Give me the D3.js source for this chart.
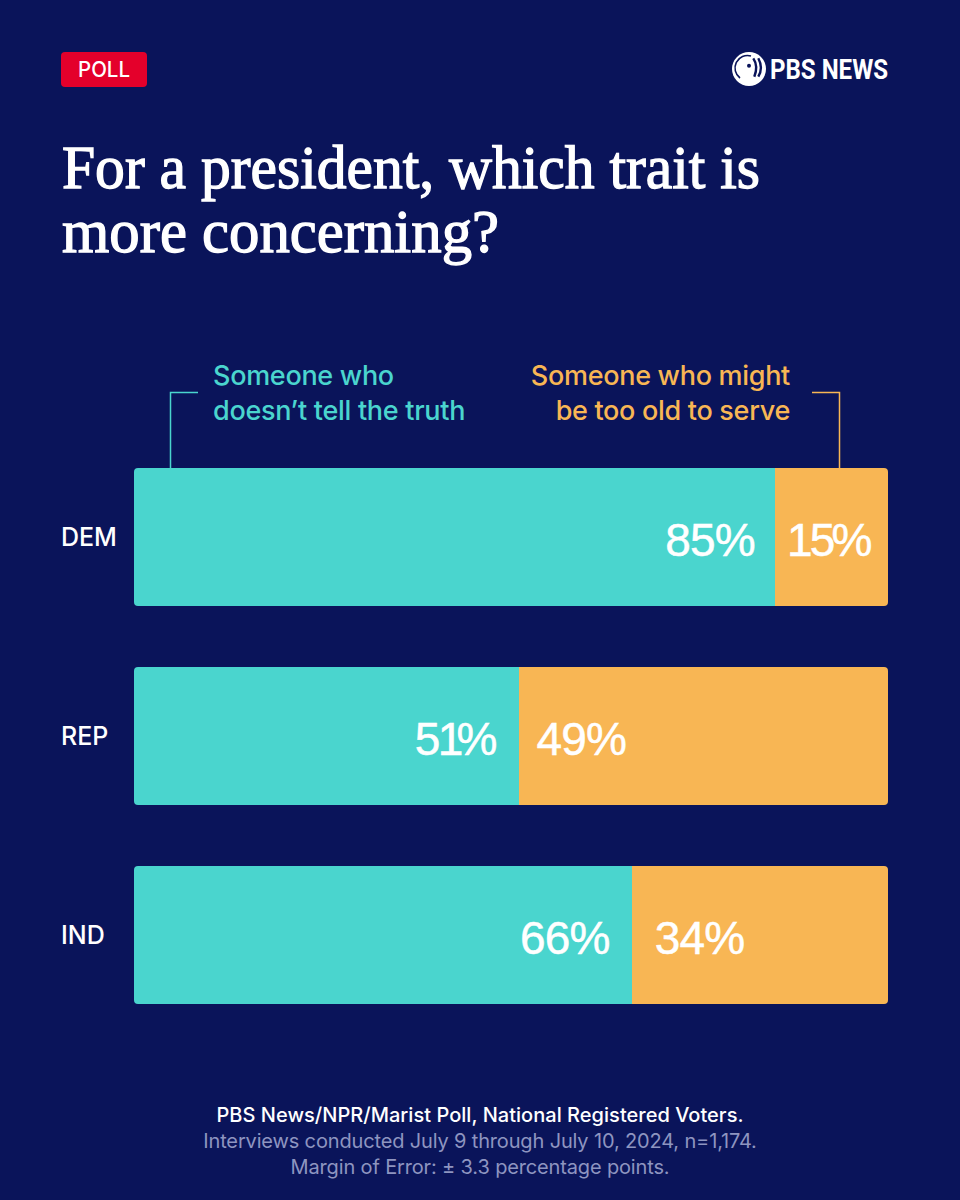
<!DOCTYPE html>
<html>
<head>
<meta charset="utf-8">
<script src="https://cdn.jsdelivr.net/npm/d3@7"></script>
<style>
  html, body { margin: 0; padding: 0; background: #0a145a; }
  svg { display: block; }
  text { font-family: Inter, "Noto Sans", sans-serif; }
</style>
</head>
<body>
<svg id="chart" width="960" height="1200"></svg>
<script>
const groups = ["DEM", "REP", "IND"];
const truthShare = [85, 51, 66];
const oldShare = [15, 49, 34];
const titleLines = ["For a president, which trait is", "more concerning?"];
const truthLegend = ["Someone who", "doesn\u2019t tell the truth"];
const oldLegend = ["Someone who might", "be too old to serve"];
const sourceLines = [
  "PBS News/NPR/Marist Poll, National Registered Voters.",
  "Interviews conducted July 9 through July 10, 2024, n=1,174.",
  "Margin of Error: \u00b1 3.3 percentage points."
];

const navy = "#0a145a", teal = "#4ad5ce", orange = "#f8b654";

const svg = d3.select("#chart");
svg.append("rect").attr("width", 960).attr("height", 1200).attr("fill", navy);

const x = d3.scaleLinear().domain([0, 100]).range([134, 888]);
const y = d3.scaleBand().domain(groups).range([468, 1004]).paddingInner(61 / 199);

// badge
svg.append("rect").attr("x", 61).attr("y", 52).attr("width", 86).attr("height", 35)
  .attr("rx", 4).attr("fill", "#e4002b");
svg.append("text").attr("x", 104).attr("y", 77).attr("text-anchor", "middle")
  .attr("font-size", 21).attr("font-weight", 500).attr("fill", "#fff")
  .attr("textLength", 52).attr("lengthAdjust", "spacingAndGlyphs").text("POLL");

// logo
const logo = svg.append("g").attr("transform", "translate(749,69)");
logo.append("circle").attr("r", 17).attr("fill", "#fff");
logo.append("path").attr("d", "M-9,9A12.5,12.5 0 0 1 2,-13")
  .attr("fill", "none").attr("stroke", navy).attr("stroke-width", 1.6);
logo.append("circle").attr("cx", 0).attr("cy", -3.3).attr("r", 2).attr("fill", navy);
logo.append("path").attr("d", "M4.3,-10.7Q9.5,-3 5.3,7.7")
  .attr("fill", "none").attr("stroke", navy).attr("stroke-width", 2.4);
logo.append("path").attr("d", "M9.3,-10.7Q14.5,-1 9.3,7.7")
  .attr("fill", "none").attr("stroke", navy).attr("stroke-width", 2.4);
svg.append("text").attr("x", 770).attr("y", 79)
  .attr("font-size", 28).attr("font-weight", 700).attr("fill", "#fff")
  .attr("textLength", 118).attr("lengthAdjust", "spacingAndGlyphs")
  .style("font-family", "Roboto").text("PBS NEWS");

// title
svg.append("g").selectAll("text").data(titleLines).join("text")
  .attr("x", 62).attr("y", (d, i) => 188 + i * 64)
  .attr("font-size", 61).attr("fill", "#fff")
  .attr("stroke", "#fff").attr("stroke-width", 1.3)
  .style("font-family", "'Liberation Serif', serif")
  .attr("textLength", (d, i) => i ? 437 : 698).attr("lengthAdjust", "spacingAndGlyphs")
  .text(d => d);

// legend text
svg.append("g").selectAll("text").data(truthLegend).join("text")
  .attr("x", 213).attr("y", (d, i) => 385 + i * 35)
  .attr("font-size", 27).attr("font-weight", 500).attr("letter-spacing", -0.3)
  .attr("fill", teal).text(d => d);
svg.append("g").selectAll("text").data(oldLegend).join("text")
  .attr("x", 790).attr("y", (d, i) => 385 + i * 35).attr("text-anchor", "end")
  .attr("font-size", 27).attr("font-weight", 500).attr("letter-spacing", -0.3)
  .attr("fill", orange).text(d => d);

// legend connectors
svg.append("path").attr("d", d3.line()([[198, 392.5], [170.5, 392.5], [170.5, 468]]))
  .attr("fill", "none").attr("stroke", teal).attr("stroke-width", 1.5);
svg.append("path").attr("d", d3.line()([[812, 392.5], [839.5, 392.5], [839.5, 468]]))
  .attr("fill", "none").attr("stroke", orange).attr("stroke-width", 1.5);

// rounded ends on each bar
const defs = svg.append("defs");
defs.selectAll("clipPath").data(groups).join("clipPath")
  .attr("id", d => "clip-" + d)
  .append("rect")
  .attr("x", x(0)).attr("y", d => y(d))
  .attr("width", x(100) - x(0)).attr("height", y.bandwidth()).attr("rx", 4);

const rows = svg.append("g").selectAll("g").data(groups).join("g")
  .attr("clip-path", d => `url(#clip-${d})`);
rows.append("rect")
  .attr("x", x(0)).attr("y", d => y(d))
  .attr("width", (d, i) => x(truthShare[i]) - x(0)).attr("height", y.bandwidth())
  .attr("fill", teal).attr("shape-rendering", "crispEdges");
rows.append("rect")
  .attr("x", (d, i) => x(truthShare[i])).attr("y", d => y(d))
  .attr("width", (d, i) => x(truthShare[i] + oldShare[i]) - x(truthShare[i])).attr("height", y.bandwidth())
  .attr("fill", orange).attr("shape-rendering", "crispEdges");

// group labels
svg.append("g").selectAll("text").data(groups).join("text")
  .attr("x", 61).attr("y", d => y(d) + 78)
  .attr("font-size", 25).attr("font-weight", 500).attr("fill", "#fff").text(d => d);

// value labels, the 1 in this font is wide so close up the gaps around it
const oneKern = d => d === 15 ? "0 -2 -3" : d === 51 ? "0 -2 -6" : null;
const valueLabel = sel => sel
  .attr("y", (d, i) => y(groups[i]) + 88)
  .attr("dx", oneKern)
  .attr("font-size", 46).attr("letter-spacing", -0.8)
  .attr("fill", "#fff").attr("stroke", "#fff").attr("stroke-width", 0.5)
  .style("font-family", "'Liberation Sans', sans-serif")
  .text(d => d + "%");
svg.append("g").selectAll("text").data(truthShare).join("text")
  .attr("x", d => x(d) - (d === 51 ? 22 : d === 66 ? 22 : 20)).attr("text-anchor", "end").call(valueLabel);
svg.append("g").selectAll("text").data(oldShare).join("text")
  .attr("x", (d, i) => x(truthShare[i]) + (d === 34 ? 23 : d === 15 ? 12 : 18)).call(valueLabel);

// source
svg.append("g").selectAll("text").data(sourceLines).join("text")
  .attr("x", 480).attr("y", (d, i) => 1122 + i * 26).attr("text-anchor", "middle")
  .attr("font-size", 20).attr("font-weight", (d, i) => i ? 400 : 500)
  .attr("letter-spacing", (d, i) => i ? -0.15 : 0.03)
  .attr("fill", (d, i) => i ? "#8e95c0" : "#fff").text(d => d);
</script>
</body>
</html>
